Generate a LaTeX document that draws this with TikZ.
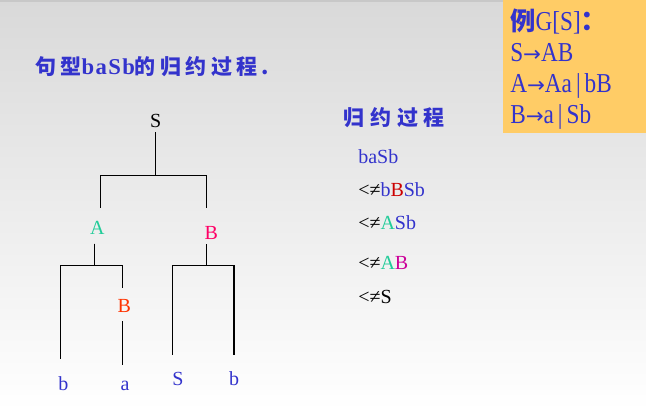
\documentclass[tikz,border=0pt]{standalone}
\usepackage{fontspec}
\setmainfont{Liberation Serif}
\newfontfamily\cjk{Noto Sans CJK SC}
\newfontfamily\arrowfont{DejaVu Sans}
\newfontfamily\rulefont[FakeStretch=0.85]{Liberation Serif}
\usetikzlibrary{positioning}
\definecolor{slideBlue}{HTML}{3333CC}
\definecolor{tikzGreen}{HTML}{22CC99}
\definecolor{tikzPink}{HTML}{FF0066}
\definecolor{tikzOrange}{HTML}{FF3300}
\definecolor{tikzRed}{HTML}{CC0000}
\definecolor{tikzMagenta}{HTML}{CC0099}
\definecolor{boxOrange}{HTML}{FFCC66}
\definecolor{backTop}{HTML}{D9D9D9}
\definecolor{backStrip}{HTML}{C8C8C8}
\tikzstyle{treelabel} =[font=\fontsize{15pt}{18pt}\selectfont, inner sep=3.3pt, anchor=base]
\tikzstyle{branch} =[line width=0.8pt, black]
\tikzstyle{stepline} =[font=\fontsize{15pt}{18pt}\selectfont, inner sep=0pt, anchor=base west]
\tikzstyle{cjktitle} =[font=\cjk\bfseries\fontsize{15.75pt}{18pt}\selectfont\addfontfeature{LetterSpace=21}, text=slideBlue, inner sep=0pt, anchor=base west]
\tikzstyle{cjkhead} =[font=\cjk\bfseries\fontsize{15.75pt}{18pt}\selectfont\addfontfeature{LetterSpace=28}, text=slideBlue, inner sep=0pt, anchor=base west]
\tikzstyle{ruleline} =[font=\rulefont\fontsize{20.5pt}{22pt}\selectfont, text=slideBlue, inner sep=0pt, anchor=base west]
\newcommand{\ruleto}{{\arrowfont\fontsize{16pt}{18pt}\selectfont →}}
\newcommand{\rulebar}{\hspace{3pt}|\hspace{3pt}}
\newcommand{\titlelatin}[1]{{\rmfamily\bfseries\fontsize{17pt}{18pt}\selectfont\addfontfeature{LetterSpace=6}#1}}

\begin{document}
\begin{tikzpicture}[x=0.75pt, y=-0.75pt]
\useasboundingbox (0,0) rectangle (646,411);
\shade[top color=backTop, bottom color=white] (0,0) rectangle (646,411);
\fill[backStrip] (0,0) rectangle (646,2);
\fill[boxOrange] (503,0) rectangle (646,133);

% titles
\node (title) [cjktitle] at (35,74) {句型\titlelatin{baSb}的归约过程.};
\node (stepsTitle) [cjkhead] at (343,125) {归约过程};

% grammar
\node (ruleHead) [ruleline] at (510,30) {{\cjk\bfseries\fontsize{19pt}{22pt}\selectfont 例}G[S]{\cjk\bfseries ：}};
\node (ruleS) [ruleline, below=23.25pt of ruleHead.base west, anchor=base west] {S\ruleto AB};
\node (ruleA) [ruleline, below=23.25pt of ruleS.base west, anchor=base west] {A\ruleto Aa\rulebar bB};
\node (ruleB) [ruleline, below=23.25pt of ruleA.base west, anchor=base west] {B\ruleto a\rulebar Sb};

% tree
\node (rootS) [treelabel] at (155.7,127.3) {S};
\node (nodeA) [treelabel, text=tikzGreen] at (97.3,234) {A};
\node (nodeBr) [treelabel, text=tikzPink] at (211.3,239.3) {B};
\node (nodeBa) [treelabel, text=tikzOrange] at (124.3,312.3) {B};
\node (leafB) [treelabel, text=slideBlue] at (63.3,390) {b};
\node (leafA) [treelabel, text=slideBlue] at (125,390) {a};
\node (leafS) [treelabel, text=slideBlue] at (178,385) {S};
\node (leafBb) [treelabel, text=slideBlue] at (234,385) {b};

\draw[branch, shorten >=6.1pt] (rootS.south) -- ++(0,43.3) -| ([xshift=2.25pt]nodeA.north);
\draw[branch, shorten >=10pt] (rootS.south) -- ++(0,43.3) -| ([xshift=-3.75pt]nodeBr.north);

\draw[branch, shorten <=3.7pt, shorten >=9.5pt] ([xshift=-2.25pt]nodeA.south) -- ++(0,26.6) -| ([xshift=-2pt]leafB.north);
\draw[branch, shorten <=3.7pt, shorten >=4.8pt] ([xshift=-2.25pt]nodeA.south) -- ++(0,26.6) -| ([xshift=-1.5pt]nodeBa.north);
\draw[branch, shorten <=3pt, shorten >=8pt] ([xshift=-1.5pt]nodeBa.south) -- ([xshift=-1.5pt]nodeBa.south |- leafA.north);

\draw[branch, shorten >=9.3pt] ([xshift=-3.75pt]nodeBr.south) -- ++(0,21.3) -| ([xshift=-4.3pt]leafS.north);
\draw[branch, shorten >=8.9pt] ([xshift=-3.75pt]nodeBr.south) -- ++(0,21.3) -| (leafBb.north);

% reduction steps
\node (stepOne) [stepline, text=slideBlue] at (358,163.3) {baSb};
\node (stepTwo) [stepline, below=25pt of stepOne.base west, anchor=base west] {<≠\textcolor{slideBlue}{b}\textcolor{tikzRed}{B}\textcolor{slideBlue}{Sb}};
\node (stepThree) [stepline, below=25pt of stepTwo.base west, anchor=base west] {<≠\textcolor{tikzGreen}{A}\textcolor{slideBlue}{Sb}};
\node (stepFour) [stepline, below=30pt of stepThree.base west, anchor=base west] {<≠\textcolor{tikzGreen}{A}\textcolor{tikzMagenta}{B}};
\node (stepFive) [stepline, below=25pt of stepFour.base west, anchor=base west] {<≠S};
\end{tikzpicture}
\end{document}
